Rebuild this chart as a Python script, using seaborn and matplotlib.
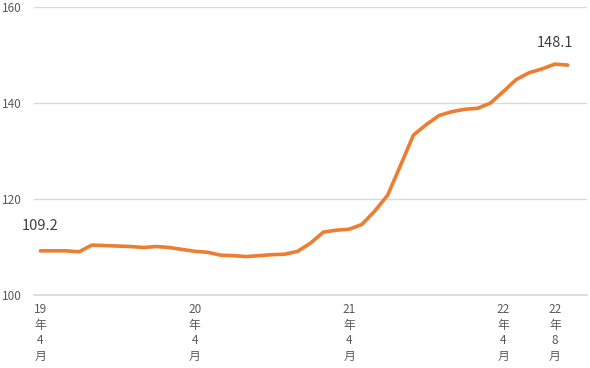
import matplotlib
matplotlib.use("Agg")
import matplotlib.pyplot as plt
import seaborn as sns
import pandas as pd
import numpy as np

# Monthly index, 2019-04 .. 2022-09
values = [109.2, 109.2, 109.2, 109.0, 110.4, 110.3, 110.2, 110.1, 109.9, 110.1,
          109.9, 109.5, 109.1, 108.9, 108.3, 108.2, 108.0, 108.2, 108.4, 108.5,
          109.1, 110.8, 113.1, 113.5, 113.7, 114.7, 117.5, 120.8, 127.0, 133.3,
          135.5, 137.4, 138.2, 138.7, 138.9, 140.0, 142.4, 144.9, 146.3, 147.1,
          148.1, 147.9]
tick_pos = [0, 12, 24, 36, 40]
tick_labels = ["19\n年\n4\n月", "20\n年\n4\n月", "21\n年\n4\n月", "22\n年\n4\n月", "22\n年\n8\n月"]
label_idx = [0, 40]
label_text = ["109.2", "148.1"]
y_ticks = [100, 120, 140, 160]

df = pd.DataFrame({"i": np.arange(len(values)), "v": values})

sns.set_theme(style="white")
plt.rcParams['font.family'] = ['Noto Sans CJK JP', 'DejaVu Sans']

fig = plt.figure(figsize=(5.9, 3.68), dpi=100)
ax = fig.add_axes([34/590, 1-295/368, (587-34)/590, (295-7)/368])

sns.lineplot(data=df, x="i", y="v", ax=ax, color="#ED7D31", linewidth=2.6)

ax.set_xlim(-0.5, 42.5)
ax.set_ylim(100, 160)
ax.set_yticks(y_ticks)
ax.set_yticklabels([str(t) for t in y_ticks], color="#595959", fontsize=8.5)
ax.set_xticks(tick_pos)
ax.set_xticklabels(tick_labels, color="#595959", fontsize=8.5, linespacing=1.25, va="top")
ax.tick_params(axis="x", length=0, pad=6)
ax.tick_params(axis="y", length=0, pad=9)
for lab in ax.get_yticklabels():
    lab.set_horizontalalignment("right")

ax.grid(axis="y", color="#d9d9d9", linewidth=1)
ax.grid(axis="x", visible=False)
for s in ["top", "right", "left"]:
    ax.spines[s].set_visible(False)
ax.spines["bottom"].set_color("#d9d9d9")
ax.set_xlabel("")
ax.set_ylabel("")

offsets = [13, 10]
for idx, txt, off in zip(label_idx, label_text, offsets):
    ax.annotate(txt, (idx, values[idx]), xytext=(0, off), textcoords="offset points",
                ha="center", va="bottom", fontsize=10.5, color="#404040")

fig.savefig("out.png", dpi=100)
